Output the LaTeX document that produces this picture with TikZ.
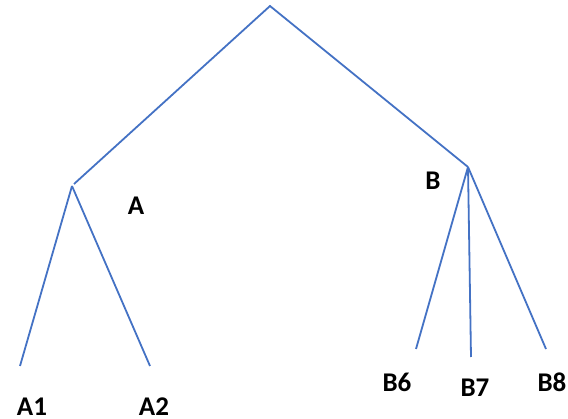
\documentclass[tikz,border=0pt]{standalone}
\usepackage{fontspec}
\setmainfont{Carlito}
\usetikzlibrary{positioning}
\definecolor{branchblue}{RGB}{68,114,196}

\begin{document}
\begin{tikzpicture}[x=1pt,y=-1pt,
    branch/.style={branchblue,line width=1.8pt},
    lbl/.style={font=\fontsize{27}{29}\selectfont\bfseries,inner sep=0pt}]
  \useasboundingbox (0,0) rectangle (568,419);
  % tree points
  \coordinate (root) at (270,6);
  \coordinate (atop) at (74,184);
  \coordinate (a) at (72,186);
  \coordinate (b) at (468,167);
  \coordinate (a1) at (20,366);
  \coordinate (a2) at (150,366);
  \coordinate (b6) at (416,349);
  \coordinate (b7) at (471,357);
  \coordinate (b8) at (546,349);
  \draw[branch] (atop) -- (root) -- (b);
  \foreach \c in {a1,a2} \draw[branch] (a) -- (\c);
  \foreach \c in {b6,b7,b8} \draw[branch] (b) -- (\c);
  % labels
  \node[lbl] (la) at (136,206) {A};
  \node[lbl] (lb) at (433,181) {B};
  \node[lbl] (la1) at (32,407) {A1};
  \node[lbl] (la2) at (154,407) {A2};
  \node[lbl] (lb6) at (397,382) {B6};
  \node[lbl] (lb7) at (475,388) {B7};
  \node[lbl] (lb8) at (552,382) {B8};
\end{tikzpicture}
\end{document}
